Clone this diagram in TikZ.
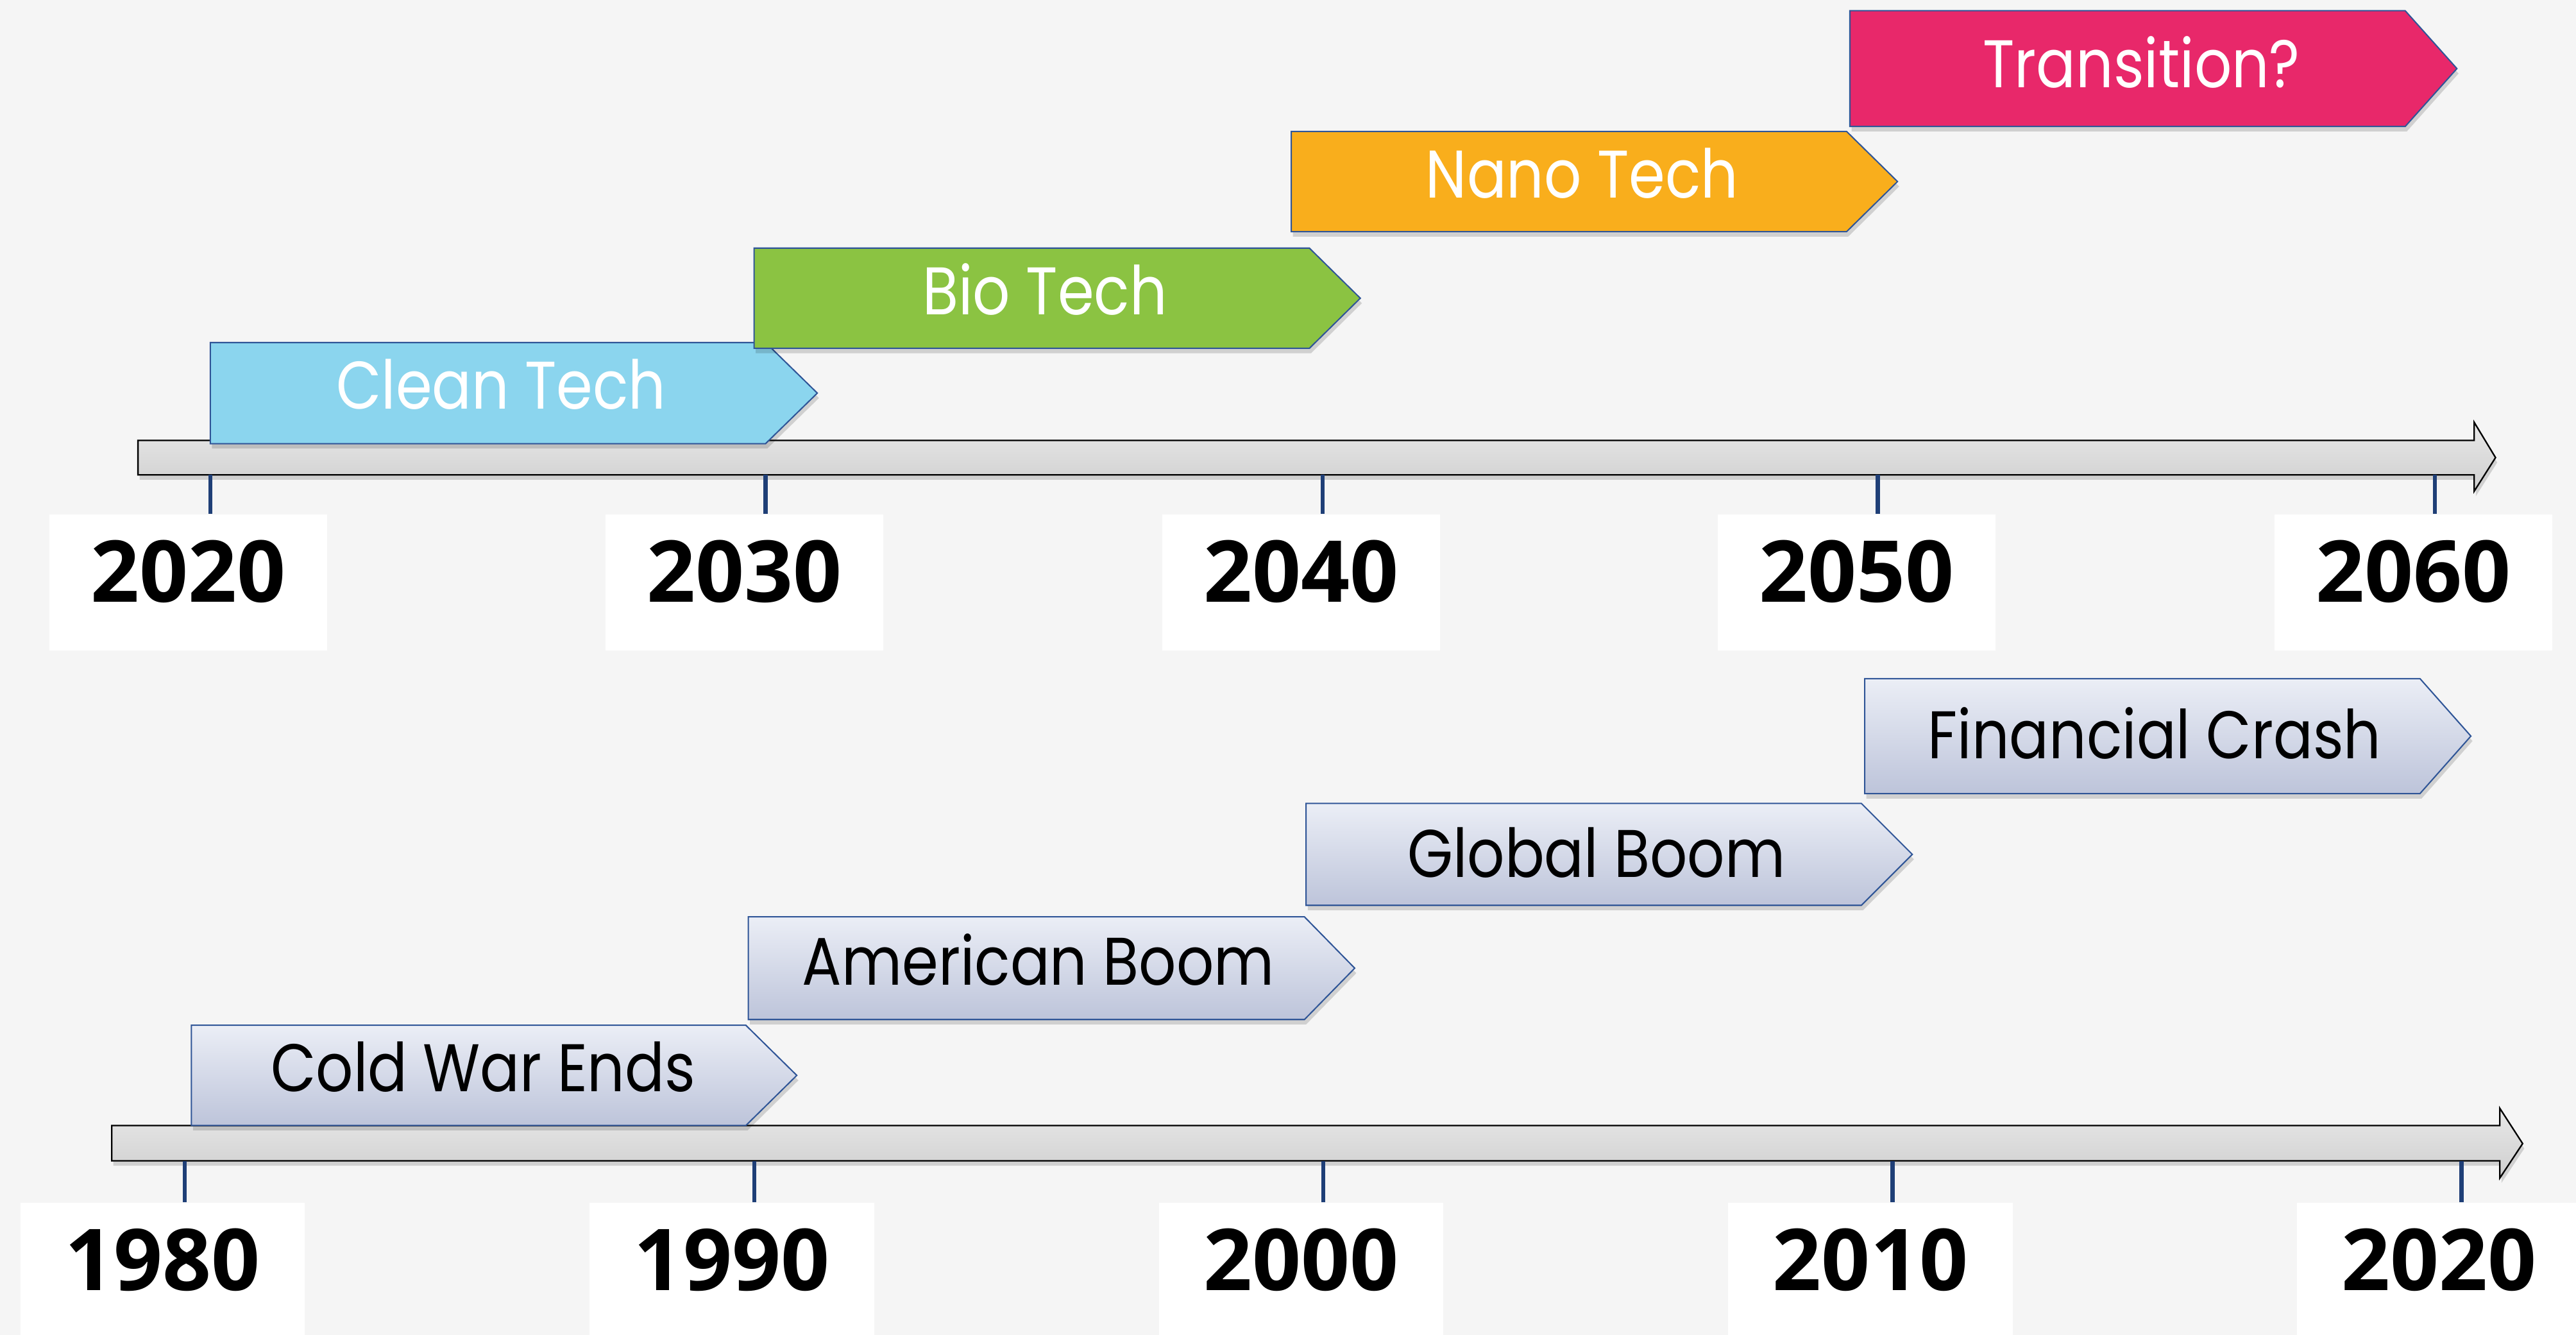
\documentclass[tikz,border=0pt]{standalone}
\usepackage{fontspec}
\usepackage{tikz}
\usetikzlibrary{shadows}
\newfontfamily\labelfont[FakeStretch=0.87]{Poppins}
\newfontfamily\yearfont{Open Sans}
\definecolor{bggray}{HTML}{F5F5F5}
\definecolor{barTop}{HTML}{E8E8E8}
\definecolor{barBot}{HTML}{CFCFCF}
\definecolor{evTop}{HTML}{EBEEF6}
\definecolor{evBot}{HTML}{BDC4DA}
\definecolor{chevBorder}{HTML}{2F5597}
\definecolor{tickBlue}{HTML}{1F3F77}
\definecolor{cleanBlue}{HTML}{8BD5EE}
\definecolor{bioGreen}{HTML}{8BC342}
\definecolor{nanoOrange}{HTML}{F9AE1C}
\definecolor{transPink}{HTML}{E8286A}

\begin{document}
\begin{tikzpicture}[x=1pt, y=-1pt,
  softshadow/.style={drop shadow={shadow xshift=1pt, shadow yshift=-3pt, opacity=0.15, fill=black}},
  bar/.style={draw=black, line width=0.9pt, top color=barTop, bottom color=barBot, softshadow},
  tech/.style={draw=chevBorder, line width=0.8pt, softshadow},
  event/.style={draw=chevBorder, line width=0.8pt, top color=evTop, bottom color=evBot, softshadow},
  techtext/.style={anchor=base, inner sep=0pt, text=white, font=\labelfont\fontsize{41}{41}\selectfont},
  eventtext/.style={anchor=base, inner sep=0pt, text=black, font=\labelfont\fontsize{41}{41}\selectfont},
  year/.style={fill=white, inner sep=0pt, minimum width=169pt, minimum height=83pt, text height=37pt, text depth=13pt, font=\yearfont\bfseries\fontsize{52}{52}\selectfont},
  tick/.style={draw=tickBlue, line width=2.4pt}]
\fill[bggray] (0,0) rectangle (1568,812.5);
\useasboundingbox (0,0) rectangle (1568,812.5);
% future timeline
\draw[bar] (84,268) -- (1506,268) -- (1506,257) -- (1519,278.5) -- (1506,299) -- (1506,289) -- (84,289) -- cycle;
\coordinate (t2020) at (128,289);
\coordinate (t2030) at (466,289);
\coordinate (t2040) at (805,289);
\coordinate (t2050) at (1143,289);
\coordinate (t2060) at (1482,289);
\node [year] (y2020) at (114.7,354.5) {2020};
\node [year] (y2030) at (453,354.5) {2030};
\node [year] (y2040) at (792,354.5) {2040};
\node [year] (y2050) at (1130,354.5) {2050};
\node [year] (y2060) at (1469,354.5) {2060};
\draw [tick] (t2020) -- (t2020 |- y2020.north);
\draw [tick] (t2030) -- (t2030 |- y2030.north);
\draw [tick] (t2040) -- (t2040 |- y2040.north);
\draw [tick] (t2050) -- (t2050 |- y2050.north);
\draw [tick] (t2060) -- (t2060 |- y2060.north);
\draw [tech, fill=cleanBlue] (128,208.5) -- (466,208.5) -- (497.5,239.25) -- (466,270) -- (128,270) -- cycle;
\node [techtext] (clean) at (305,249) {Clean Tech};
\draw [tech, fill=bioGreen] (459,151) -- (797,151) -- (828,181.5) -- (797,212) -- (459,212) -- cycle;
\node [techtext] (bio) at (636,191.5) {Bio Tech};
\draw [tech, fill=nanoOrange] (786,80) -- (1124,80) -- (1155,110.5) -- (1124,141) -- (786,141) -- cycle;
\node [techtext] (nano) at (963,120.5) {Nano Tech};
\draw [tech, fill=transPink] (1126,6.5) -- (1464,6.5) -- (1495.5,41.75) -- (1464,77) -- (1126,77) -- cycle;
\node [techtext] (transition) at (1303.5,53.4) {Transition?};
% past timeline
\draw[bar] (68,685) -- (1521.6,685) -- (1521.6,674.5) -- (1535.5,696) -- (1521.6,717) -- (1521.6,706.5) -- (68,706.5) -- cycle;
\coordinate (t1980) at (112.6,706.5);
\coordinate (t1990) at (459.3,706.5);
\coordinate (t2000) at (805.6,706.5);
\coordinate (t2010) at (1152,706.5);
\coordinate (t2020b) at (1498.3,706.5);
\node [year, minimum width=173pt] (y1980) at (99,773.5) {1980};
\node [year, minimum width=173pt] (y1990) at (445.5,773.5) {1990};
\node [year, minimum width=173pt] (y2000) at (792,773.5) {2000};
\node [year, minimum width=173pt] (y2010) at (1138.5,773.5) {2010};
\node [year, minimum width=173pt] (y2020b) at (1484.5,773.5) {2020};
\draw [tick] (t1980) -- (t1980 |- y1980.north);
\draw [tick] (t1990) -- (t1990 |- y1990.north);
\draw [tick] (t2000) -- (t2000 |- y2000.north);
\draw [tick] (t2010) -- (t2010 |- y2010.north);
\draw [tick] (t2020b) -- (t2020b |- y2020b.north);
\draw [event] (116.5,624) -- (454,624) -- (485,654.5) -- (454,685) -- (116.5,685) -- cycle;
\node [eventtext] (coldwar) at (294,664.5) {Cold War Ends};
\draw [event] (455.5,558) -- (794,558) -- (824.6,589.25) -- (794,620.5) -- (455.5,620.5) -- cycle;
\node [eventtext] (american) at (632,599.7) {American Boom};
\draw [event] (795,489) -- (1133,489) -- (1164,520) -- (1133,551) -- (795,551) -- cycle;
\node [eventtext] (global) at (971.7,534) {Global Boom};
\draw [event] (1135,413) -- (1473,413) -- (1504,448) -- (1473,483) -- (1135,483) -- cycle;
\node [eventtext] (crash) at (1311.5,461.7) {Financial Crash};
\end{tikzpicture}
\end{document}
